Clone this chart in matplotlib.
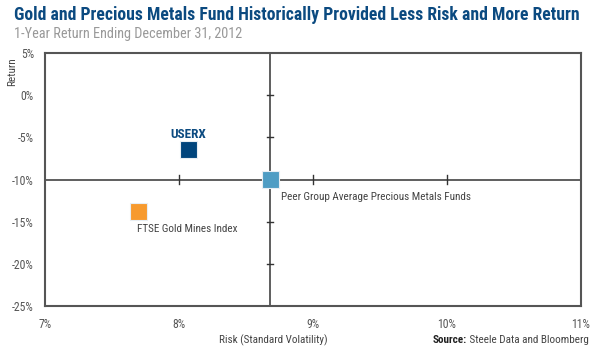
import matplotlib.pyplot as plt
from matplotlib.ticker import FuncFormatter

plt.rcParams['font.family'] = ['Roboto Condensed', 'DejaVu Sans']

# data: risk (%) and 1-year return (%)
names = ['USERX', 'FTSE Gold Mines Index', 'Peer Group Average Precious Metals Funds']
risk = [8.07, 7.70, 8.68]
ret = [-6.4, -13.8, -10.0]
colors = ['#00457c', '#f79a2e', '#4f9dc4']

x_ticks = [7, 8, 9, 10, 11]
y_ticks = [5, 0, -5, -10, -15, -20, -25]

fig = plt.figure(figsize=(6, 3.5), dpi=100)
ax = fig.add_axes([45/600, 1-306/350, 536/600, 253/350])
ax.set_xlim(7, 11)
ax.set_ylim(-25, 5)

# crosshair through the peer group average
px, py = risk[2], ret[2]
ax.axhline(py, color='#333333', lw=1.1, zorder=1)
ax.axvline(px, color='#333333', lw=1.1, zorder=1)
for x in x_ticks[1:-1]:
    ax.plot([x, x], [py - 0.5, py + 0.5], color='#333333', lw=1, zorder=1)
for y in y_ticks[1:-1]:
    if y != py:
        ax.plot([px - 0.025, px + 0.025], [y, y], color='#333333', lw=1, zorder=1)

ax.scatter(risk, ret, s=150, marker='s', c=colors, edgecolors='#e8eef3',
           linewidths=0.8, zorder=3)

ax.text(risk[0], ret[0] + 1.0, 'USERX', color='#0b4a80', fontsize=9.5,
        fontweight='bold', ha='center', va='bottom')
ax.text(risk[1] - 0.01, ret[1] - 1.5, names[1], color='#444444', fontsize=8,
        ha='left', va='top')
ax.text(risk[2] + 0.08, ret[2] - 1.5, names[2], color='#444444', fontsize=8,
        ha='left', va='top')

ax.set_xticks(x_ticks)
ax.set_yticks(y_ticks)
ax.xaxis.set_major_formatter(FuncFormatter(lambda v, p: '%d%%' % v))
ax.yaxis.set_major_formatter(FuncFormatter(lambda v, p: '%d%%' % v))
ax.tick_params(length=0, labelsize=8.5, labelcolor='#555555')
ax.tick_params(axis='x', pad=9)
ax.tick_params(axis='y', pad=8)
for s in ax.spines.values():
    s.set_color('#555555')
    s.set_linewidth(1.5)

fig.text(14/600, 1-15/350, 'Gold and Precious Metals Fund Historically Provided Less Risk and More Return',
         color='#0b4a80', fontsize=12.7, fontweight='bold', va='center')
fig.text(14/600, 1-34/350, '1-Year Return Ending December 31, 2012',
         color='#999999', fontsize=10.3, va='center')
fig.text(12/600, 1-72/350, 'Return', rotation=90, fontsize=8, color='#444444',
         ha='center', va='center')
fig.text(273/600, 1-340/350, 'Risk (Standard Volatility)', fontsize=8,
         color='#444444', ha='center', va='center')
src = fig.text(589/600, 1-340/350, ' Steele Data and Bloomberg', fontsize=8,
               color='#444444', ha='right', va='center')
fig.canvas.draw()
bb = src.get_window_extent()
fig.text(bb.x0/600, 1-340/350, 'Source:', fontsize=8, fontweight='bold',
         color='#222222', ha='right', va='center')

fig.savefig('out.png', dpi=100)
